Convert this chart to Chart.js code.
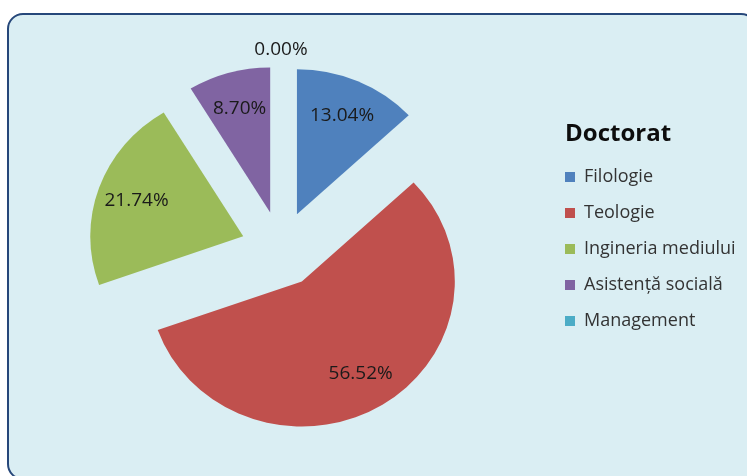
<!DOCTYPE html>
<html>
<head>
<meta charset="utf-8">
<script src="https://cdn.jsdelivr.net/npm/chart.js@4.4.1/dist/chart.umd.min.js"></script>
<style>
  html, body { margin: 0; padding: 0; background: #fff; }
  #wrap { position: relative; width: 747px; height: 476px; overflow: hidden; }
  #frame {
    position: absolute; left: 7px; top: 13px; width: 750px; height: 467px;
    box-sizing: border-box; border: 2px solid #26477a; border-radius: 16px;
    background: #daeef3;
  }
  canvas { position: absolute; left: 0; top: 0; }
</style>
</head>
<body>
<div id="wrap">
  <div id="frame"></div>
  <canvas id="chart" width="747" height="476"></canvas>
</div>
<script>
// data
const categories = ['Filologie', 'Teologie', 'Ingineria mediului', 'Asistență socială', 'Management'];
const shares = [13.04, 56.52, 21.74, 8.70, 0.00];
const colors = ['#4f81bd', '#c0504d', '#9bbb59', '#8064a2', '#4bacc6'];
const legendTitle = 'Doctorat';

const FONT = '"Open Sans", sans-serif';
const RADIUS = 145;      // vertical radius of the pie
const STRETCH_X = 1.055; // the original pie is a bit wider than tall
const EXPLODE = 38;      // every slice pulled out by the same amount
const PIE_CX = 281;
const LEGEND_X = 565;
const LEGEND_FS = 18;
const LEGEND_PAD = 18;
const LEGEND_BOX = 10;

// work out paddings so the legend lands where it does in the original
const measure = document.createElement('canvas').getContext('2d');
measure.font = LEGEND_FS + 'px ' + FONT;
const maxTextW = Math.max(...categories.map(c => measure.measureText(c).width));
const legendLeft = LEGEND_X - LEGEND_PAD;
const legendWidth = LEGEND_PAD + LEGEND_BOX + LEGEND_FS / 2 + maxTextW + 10;
const padRight = Math.max(0, 747 - legendLeft - legendWidth);
const padLeft = 2 * PIE_CX - legendLeft;

// draws the slices exploded (Chart.js' own offset also grows the radius)
const explodedSlices = {
    id: 'explodedSlices',
    beforeDatasetDraw(chart, args) {
        const ctx = chart.ctx;
        args.meta.data.forEach(arc => {
            const { x, y, startAngle, endAngle, outerRadius } =
                arc.getProps(['x', 'y', 'startAngle', 'endAngle', 'outerRadius'], true);
            if (endAngle - startAngle <= 0) return;
            const mid = (startAngle + endAngle) / 2;
            ctx.save();
            ctx.translate(x, y);
            ctx.scale(STRETCH_X, 1);
            ctx.translate(Math.cos(mid) * EXPLODE, Math.sin(mid) * EXPLODE);
            ctx.beginPath();
            ctx.moveTo(0, 0);
            ctx.arc(0, 0, outerRadius, startAngle, endAngle);
            ctx.closePath();
            ctx.fillStyle = arc.options.backgroundColor;
            ctx.fill();
            ctx.restore();
        });
        return false;
    },
    afterDatasetsDraw(chart) {
        const ctx = chart.ctx;
        const meta = chart.getDatasetMeta(0);
        ctx.save();
        ctx.font = '19px ' + FONT;
        ctx.fillStyle = '#1a1a1a';
        ctx.textAlign = 'center';
        ctx.textBaseline = 'middle';
        meta.data.forEach((arc, i) => {
            const { x, y, startAngle, endAngle, outerRadius } =
                arc.getProps(['x', 'y', 'startAngle', 'endAngle', 'outerRadius'], true);
            const mid = (startAngle + endAngle) / 2;
            // zero slices get their label outside, the rest inside
            const dist = EXPLODE + (shares[i] === 0 ? outerRadius + 16 : outerRadius * 0.74);
            const lx = x + Math.cos(mid) * dist * STRETCH_X;
            const ly = y + Math.sin(mid) * dist;
            ctx.fillText(shares[i].toFixed(2) + '%', lx, ly);
        });
        ctx.restore();
    },
    afterDraw(chart) {
        const lg = chart.legend;
        const ctx = chart.ctx;
        const colH = categories.length * (LEGEND_FS + LEGEND_PAD);
        const firstY = (lg.top + LEGEND_PAD + lg.bottom - colH) / 2 + LEGEND_FS / 2;
        ctx.save();
        ctx.font = 'bold 24px ' + FONT;
        ctx.fillStyle = '#0d0d0d';
        ctx.textAlign = 'left';
        ctx.textBaseline = 'middle';
        ctx.fillText(legendTitle, lg.left + LEGEND_PAD, firstY - 43);
        ctx.restore();
    }
};

new Chart(document.getElementById('chart'), {
    type: 'pie',
    data: {
        labels: categories,
        datasets: [{
            data: shares,
            backgroundColor: colors,
            borderWidth: 0
        }]
    },
    options: {
        responsive: false,
        animation: false,
        events: [],
        radius: RADIUS,
        layout: {
            padding: { left: padLeft, right: padRight, top: 22, bottom: 0 }
        },
        plugins: {
            tooltip: { enabled: false },
            legend: {
                position: 'right',
                labels: {
                    boxWidth: LEGEND_BOX,
                    boxHeight: LEGEND_BOX,
                    padding: LEGEND_PAD,
                    color: '#333333',
                    font: { family: FONT, size: LEGEND_FS }
                }
            }
        }
    },
    plugins: [explodedSlices]
});
</script>
</body>
</html>
